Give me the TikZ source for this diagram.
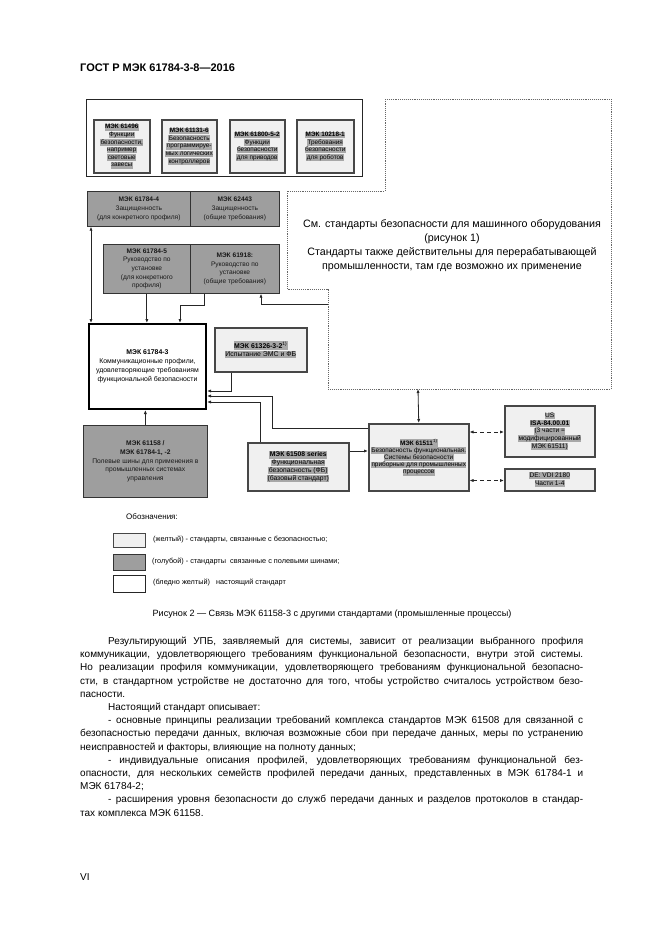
\documentclass[tikz,border=0pt]{standalone}
\usepackage{fontspec}
\setmainfont{Liberation Sans}
\usetikzlibrary{arrows.meta}
\definecolor{hlgray}{gray}{0.66}
\definecolor{boxgray}{gray}{0.62}
\definecolor{yfill}{gray}{0.94}
\newcommand{\hlx}[1]{{\setlength{\fboxsep}{0.4pt}\colorbox{hlgray}{\vphantom{Ау}#1}}}
\newcommand{\jline}[2]{\makebox[#1][s]{#2}}
\tikzset{
  ybox/.style={draw=black!72, line width=1.5pt, fill=yfill, align=center, inner sep=0pt, anchor=north west, font=\fontsize{6.4}{8.6}\selectfont},
  gbox/.style={draw=black!80, line width=0.7pt, fill=boxgray, align=center, inner sep=0pt, anchor=north west, text=black!90, font=\fontsize{6.6}{8.6}\selectfont},
  wbox/.style={draw=black, line width=2pt, fill=white, align=center, inner sep=0pt, anchor=north west, font=\fontsize{6.9}{9}\selectfont},
  conn/.style={draw=black!85, line width=0.8pt},
  arr/.style={conn, -{Latex[length=4pt,width=3.2pt]}},
  darr/.style={conn, {Latex[length=4pt,width=3.2pt]}-{Latex[length=4pt,width=3.2pt]}},
  dsharr/.style={conn, dashed, dash pattern=on 4pt off 3pt, {Latex[length=4pt,width=3.2pt]}-{Latex[length=4pt,width=3.2pt]}},
  body/.style={anchor=base west, inner sep=0pt, font=\fontsize{10}{12}\selectfont},
  legtext/.style={anchor=west, inner sep=0pt, font=\fontsize{7.3}{8}\selectfont},
}
\begin{document}
\begin{tikzpicture}[x=1pt,y=-1pt]
\fill[white] (0,0) rectangle (661,935);
\useasboundingbox (0,0) rectangle (661,935);

% header
\node[anchor=base west, inner sep=0pt, font=\fontsize{11}{13}\bfseries\selectfont] (hdr) at (80,71) {ГОСТ Р МЭК 61784-3-8—2016};

% top container with machine safety standards
\node[draw=black!85, line width=0.8pt, fill=white, anchor=north west, minimum width=276pt, minimum height=77pt, inner sep=0pt] (top) at (86,99) {};
\node[ybox, minimum width=56pt, minimum height=53pt] (b1) at (93,119) {\hlx{\textbf{МЭК 61496}}\\[-1pt]\hlx{Функции}\\[-1pt]\hlx{безопасности,}\\[-1pt]\hlx{например}\\[-1pt]\hlx{световые}\\[-1pt]\hlx{завесы}};
\node[ybox, minimum width=55pt, minimum height=53pt] (b2) at (161,119) {\hlx{\textbf{МЭК 61131-6}}\\[-1pt]\hlx{Безопасность}\\[-1pt]\hlx{программируе-}\\[-1pt]\hlx{мых логических}\\[-1pt]\hlx{контроллеров}};
\node[ybox, minimum width=55pt, minimum height=53pt] (b3) at (229,119) {\hlx{\textbf{МЭК 61800-5-2}}\\[-1pt]\hlx{Функции}\\[-1pt]\hlx{безопасности}\\[-1pt]\hlx{для приводов}};
\node[ybox, minimum width=57pt, minimum height=53pt] (b4) at (296,119) {\hlx{\textbf{МЭК 10218-1}}\\[-1pt]\hlx{Требования}\\[-1pt]\hlx{безопасности}\\[-1pt]\hlx{для роботов}};

% dotted region
\draw[draw=black!60, line width=0.9pt, densely dotted] (385,99) -- (611,99) -- (611,389) -- (328,389) -- (328,289) -- (287,289) -- (287,191) -- (385,191) -- cycle;
\node[align=center, inner sep=0pt, font=\fontsize{10.7}{14}\selectfont] (dtext) at (452,246) {См. стандарты безопасности для машинного оборудования\\(рисунок 1)\\Стандарты также действительны для перерабатывающей\\промышленности, там где возможно их применение};
\coordinate (dl) at (328,304);
\coordinate (db) at (418,389);

% row 2
\node[gbox, minimum width=103pt, minimum height=35pt] (r2L) at (87,191) {\textbf{МЭК 61784-4}\\Защищенность\\(для конкретного профиля)};
\node[gbox, minimum width=89pt, minimum height=35pt] (r2R) at (190,191) {\textbf{МЭК 62443}\\Защищенность\\(общие требования)};
% row 3
\node[gbox, minimum width=87pt, minimum height=49pt] (r3L) at (103,244) {\textbf{МЭК 61784-5}\\Руководство по\\установке\\(для конкретного\\профиля)};
\node[gbox, minimum width=89pt, minimum height=49pt] (r3R) at (190,244) {\textbf{МЭК 61918:}\\Руководство по\\установке\\(общие требования)};

% main box
\node[wbox, minimum width=117pt, minimum height=85pt] (main) at (88,323) {\textbf{МЭК 61784-3}\\Коммуникационные профили,\\удовлетворяющие требованиям\\функциональной безопасности};

% EMC box
\node[ybox, minimum width=92pt, minimum height=44pt, font=\fontsize{6.9}{9}\selectfont] (emc) at (214,327) {\hlx{\textbf{МЭК 61326-3-2}\textsuperscript{1)}}\\[-1pt]\hlx{Испытание ЭМС и ФБ}};

% fieldbus box
\node[gbox, minimum width=124pt, minimum height=72pt, font=\fontsize{6.7}{8.8}\selectfont] (f158) at (83,425) {\textbf{МЭК 61158 /}\\\textbf{МЭК 61784-1, -2}\\Полевые шины для применения в\\промышленных системах\\управления};

% 61508
\node[ybox, minimum width=101pt, minimum height=48pt, font=\fontsize{6.8}{8.8}\selectfont] (s508) at (247,442) {\hlx{\textbf{МЭК 61508 series}}\\[-1pt]\hlx{Функциональная}\\[-1pt]\hlx{безопасность (ФБ)}\\[-1pt]\hlx{(базовый стандарт)}};
% 61511
\node[ybox, minimum width=100pt, minimum height=67pt, font=\fontsize{6.4}{8.2}\selectfont] (s511) at (368,423) {\hlx{\textbf{МЭК 61511}\textsuperscript{1)}}\\[-1pt]\hlx{Безопасность функциональная.}\\[-1pt]\hlx{Системы безопасности}\\[-1pt]\hlx{приборные для промышленных}\\[-1pt]\hlx{процессов}};
% US
\node[ybox, minimum width=90pt, minimum height=51pt, font=\fontsize{6.6}{8.6}\selectfont] (us) at (504,405) {\hlx{US}\\[-1pt]\hlx{\textbf{ISA-84.00.01}}\\[-1pt]\hlx{(3 части =}\\[-1pt]\hlx{модифицированный}\\[-1pt]\hlx{МЭК 61511)}};
% DE
\node[ybox, minimum width=90pt, minimum height=22pt, font=\fontsize{6.6}{9}\selectfont] (de) at (504,468) {\hlx{DE: VDI 2180}\\[-1pt]\hlx{Части 1-4}};

% connectors
\draw[darr] ([xshift=4pt]r2L.south west) -- ([xshift=4pt]r2L.south west |- main.north);
\draw[arr] (r3L.south) -- (r3L.south |- main.north);
\draw[arr] ([xshift=14pt]r3R.south west) -- ++(0,12) -| ([xshift=92pt]main.north west);
\draw[arr] (dl) -| ([xshift=71pt]r3R.south west);
\draw[arr] ([xshift=17pt]emc.south west) |- ([yshift=19pt]main.south east);
\draw[arr] ([yshift=-5pt]s511.north west) -- ++(-96,0) |- ([yshift=14pt]main.south east);
\draw[arr] ([xshift=13pt]s508.north west) |- ([yshift=8pt]main.south east);
\draw[arr] ([yshift=-9pt]s508.north east) -- ([yshift=-9pt]s508.north east -| s511.west);
\draw[darr] (s511.north) -- (db);
\draw[dsharr] ([yshift=-9pt]s511.north east) -- ([yshift=-9pt]s511.north east -| us.west);
\draw[dsharr] ([yshift=11pt]s511.south east) -- ([yshift=11pt]s511.south east -| de.west);
\draw[arr] (f158.north) -- (f158.north |- main.south);

% legend
\node[anchor=center, inner sep=0pt, font=\fontsize{8}{9}\selectfont] (legtitle) at (152,517) {Обозначения:};
\node[draw=black!72, line width=1.2pt, fill=yfill, anchor=north west, minimum width=32pt, minimum height=14pt, inner sep=0pt] (lg1) at (113,533) {};
\node[draw=black!80, line width=0.7pt, fill=boxgray, anchor=north west, minimum width=32pt, minimum height=16pt, inner sep=0pt] (lg2) at (113,554) {};
\node[draw=black!85, line width=0.7pt, fill=white, anchor=north west, minimum width=32pt, minimum height=17pt, inner sep=0pt] (lg3) at (113,575) {};
\node[legtext] (lt1) at (153,540) {(желтый) - стандарты, связанные с безопасностью;};
\node[legtext] (lt2) at (152,562) {(голубой) - стандарты\ \ связанные с полевыми шинами;};
\node[legtext] (lt3) at (153,583) {(бледно желтый)\ \ \ настоящий стандарт};

% caption
\node[anchor=base, inner sep=0pt, font=\fontsize{9.1}{11}\selectfont] (cap) at (332,616.5) {Рисунок 2 — Связь МЭК 61158-3 с другими стандартами (промышленные процессы)};

% body text
\node[body] (l1) at (108,644.5) {\jline{475pt}{Результирующий УПБ, заявляемый для системы, зависит от реализации выбранного профиля}};
\node[body] (l2) at (80,657.7) {\jline{503pt}{коммуникации, удовлетворяющего требованиям функциональной безопасности, внутри этой системы.}};
\node[body] (l3) at (80,670.9) {\jline{503pt}{Но реализации профиля коммуникации, удовлетворяющего требованиям функциональной безопасно-}};
\node[body] (l4) at (80,684.1) {\jline{503pt}{сти, в стандартном устройстве не достаточно для того, чтобы устройство считалось устройством безо-}};
\node[body] (l5) at (80,697.3) {пасности.};
\node[body] (l6) at (108,710.5) {Настоящий стандарт описывает:};
\node[body] (l7) at (108,723.7) {\jline{475pt}{- основные принципы реализации требований комплекса стандартов МЭК 61508 для связанной с}};
\node[body] (l8) at (80,736.9) {\jline{503pt}{безопасностью передачи данных, включая возможные сбои при передаче данных, меры по устранению}};
\node[body] (l9) at (80,750.1) {неисправностей и факторы, влияющие на полноту данных;};
\node[body] (l10) at (108,763.3) {\jline{475pt}{- индивидуальные описания профилей, удовлетворяющих требованиям функциональной без-}};
\node[body] (l11) at (80,776.5) {\jline{503pt}{опасности, для нескольких семейств профилей передачи данных, представленных в МЭК 61784-1 и}};
\node[body] (l12) at (80,789.7) {МЭК 61784-2;};
\node[body] (l13) at (108,802.9) {\jline{475pt}{- расширения уровня безопасности до служб передачи данных и разделов протоколов в стандар-}};
\node[body] (l14) at (80,816.1) {тах комплекса МЭК 61158.};

\node[body] (pg) at (80,880) {VI};
\end{tikzpicture}
\end{document}
